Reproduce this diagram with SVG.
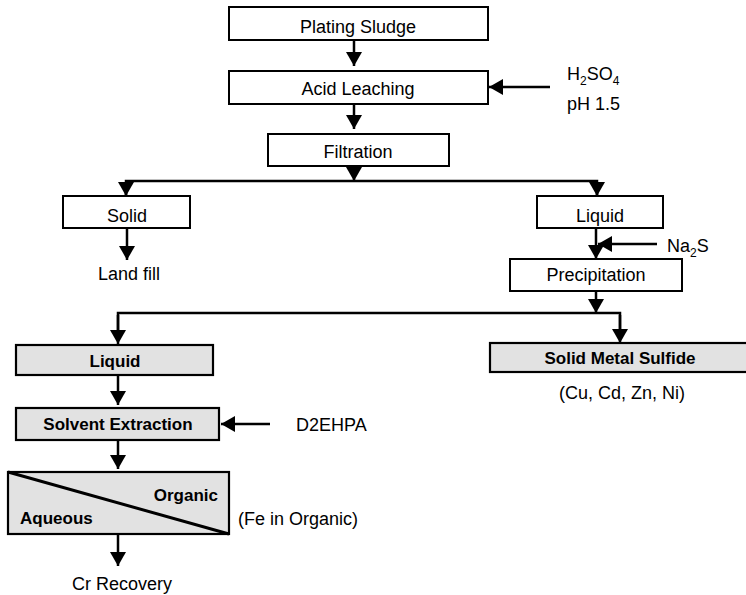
<svg xmlns="http://www.w3.org/2000/svg" width="746" height="595" viewBox="0 0 746 595">
<defs>
<marker id="ah" viewBox="0 0 14 16" refX="14" refY="8" markerWidth="14" markerHeight="16" markerUnits="userSpaceOnUse" orient="auto">
<path d="M0,0 L14,8 L0,16 Z" fill="#000"/>
</marker>
</defs>
<style>
.box{fill:#fff;stroke:#000;stroke-width:2}
.sh{fill:#e2e2e2;stroke:#000;stroke-width:2.2}
.t{font-family:"Liberation Sans",Arial,sans-serif;font-size:18px;fill:#000}
.c{text-anchor:middle}
.b{font-weight:bold;font-size:17px}
.ln{fill:none;stroke:#000;stroke-width:2.5}
.ar{fill:none;stroke:#000;stroke-width:2.5;marker-end:url(#ah)}
</style>
<rect width="746" height="595" fill="#fff"/>
<g id="connectors">
<line class="ar" x1="354" y1="40" x2="354" y2="66"/>
<line class="ar" x1="550" y1="87" x2="489" y2="87"/>
<line class="ar" x1="354" y1="104" x2="354" y2="129"/>
<line class="ar" x1="354" y1="166" x2="354" y2="181"/>
<polyline class="ln" points="126,195 126,181 597,181 597,195"/>
<line class="ar" x1="126" y1="183" x2="126" y2="196"/>
<line class="ar" x1="597" y1="183" x2="597" y2="196"/>
<line class="ar" x1="127" y1="228" x2="127" y2="260"/>
<line class="ar" x1="596" y1="228" x2="596" y2="259"/>
<line class="ar" x1="657" y1="244" x2="598" y2="244"/>
<line class="ar" x1="596" y1="291" x2="596" y2="313"/>
<polyline class="ln" points="118,330 118,313 620,313 620,330"/>
<line class="ar" x1="118" y1="315" x2="118" y2="344"/>
<line class="ar" x1="620" y1="315" x2="620" y2="343"/>
<line class="ar" x1="118" y1="375" x2="118" y2="405"/>
<line class="ar" x1="270" y1="424" x2="221" y2="424"/>
<line class="ar" x1="118" y1="440" x2="118" y2="469"/>
<line class="ar" x1="118" y1="534" x2="118" y2="566"/>
</g>
<g id="plating-sludge"><rect class="box" x="229" y="7" width="259" height="33"/><text class="t c" x="358" y="33">Plating Sludge</text></g>
<g id="acid-leaching"><rect class="box" x="229" y="71" width="259" height="33"/><text class="t c" x="358" y="95">Acid Leaching</text></g>
<g id="h2so4"><text class="t" x="567" y="80">H<tspan font-size="12" dy="5">2</tspan><tspan dy="-5">SO</tspan><tspan font-size="12" dy="5">4</tspan></text><text class="t" x="567" y="110">pH 1.5</text></g>
<g id="filtration"><rect class="box" x="268" y="134" width="181" height="32"/><text class="t c" x="358" y="158">Filtration</text></g>
<g id="solid"><rect class="box" x="63" y="196" width="127" height="32"/><text class="t c" x="127" y="222">Solid</text></g>
<g id="land-fill"><text class="t c" x="129" y="280">Land fill</text></g>
<g id="liquid-top"><rect class="box" x="537" y="196" width="126" height="32"/><text class="t c" x="600" y="222">Liquid</text></g>
<g id="na2s"><text class="t" x="667" y="252">Na<tspan font-size="12" dy="5">2</tspan><tspan dy="-5">S</tspan></text></g>
<g id="precipitation"><rect class="box" x="510" y="259" width="172" height="32"/><text class="t c" x="596" y="281">Precipitation</text></g>
<g id="liquid-shaded"><rect class="sh" x="16" y="345" width="197" height="30"/><text class="t c b" x="115" y="367">Liquid</text></g>
<g id="solid-metal-sulfide"><rect class="sh" x="490" y="343" width="258" height="29"/><text class="t c b" x="620" y="364">Solid Metal Sulfide</text><text class="t c" x="622" y="399">(Cu, Cd, Zn, Ni)</text></g>
<g id="solvent-extraction"><rect class="sh" x="16" y="408" width="203" height="32"/><text class="t c b" x="118" y="430">Solvent Extraction</text></g>
<g id="d2ehpa"><text class="t" x="296" y="431">D2EHPA</text></g>
<g id="phase-separation"><rect class="sh" x="8" y="472" width="221" height="62"/><line x1="8" y1="472" x2="229" y2="534" stroke="#000" stroke-width="3"/><text class="t b" x="218" y="501" text-anchor="end">Organic</text><text class="t b" x="20" y="524">Aqueous</text></g>
<g id="fe-in-organic"><text class="t" x="238" y="525">(Fe in Organic)</text></g>
<g id="cr-recovery"><text class="t c" x="122" y="590">Cr Recovery</text></g>
</svg>
